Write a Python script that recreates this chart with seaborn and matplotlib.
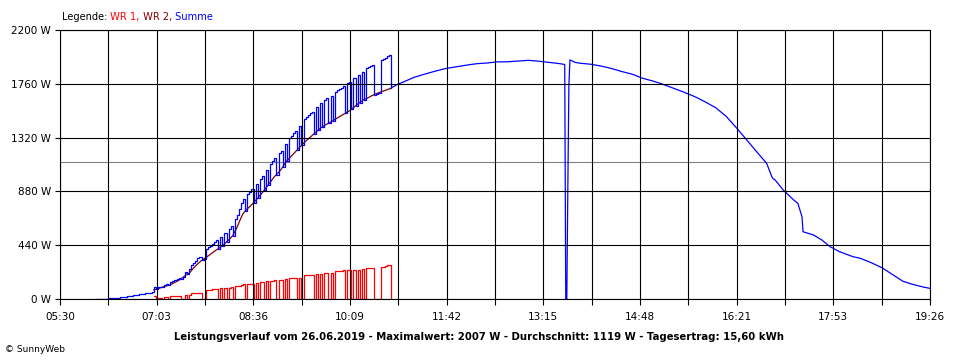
import matplotlib
matplotlib.use("Agg")
import matplotlib.pyplot as plt
import numpy as np
import seaborn as sns

# Sampling of the morning inverter data (both inverters report)
MORNING_START = "07:00"
MORNING_STEP_MIN = 2

# WR 1 switches on and off in the morning, then drops out around 10:48
wr1_morning = [
    25, 0, 12, 12, 0, 15, 15, 0, 22, 22,
    22, 22, 22, 0, 0, 30, 0, 32, 45, 45,
    46, 47, 47, 0, 0, 70, 72, 75, 78, 82,
    85, 0, 88, 0, 90, 0, 92, 95, 0, 105,
    106, 108, 118, 120, 0, 122, 124, 126, 0, 132,
    0, 136, 138, 0, 147, 0, 150, 151, 152, 0,
    158, 158, 0, 160, 0, 170, 170, 172, 172, 0,
    174, 0, 196, 196, 197, 198, 198, 0, 205, 0,
    208, 0, 210, 212, 0, 214, 0, 229, 229, 230,
    230, 236, 0, 237, 238, 0, 240, 0, 241, 0,
    242, 0, 251, 252, 252, 253, 0, 0, 0, 262,
    263, 266, 275, 280, 0,
]

wr2_morning = [
    75, 80, 85, 90, 96, 101, 106, 111, 116, 125,
    134, 143, 152, 162, 176, 190, 205, 210, 230, 250,
    268, 285, 300, 315, 327, 338, 350, 362, 375, 388,
    400, 411, 423, 436, 450, 466, 482, 500, 518, 550,
    585, 625, 665, 700, 720, 737, 753, 770, 787, 806,
    825, 845, 865, 888, 910, 932, 955, 978, 1000, 1018,
    1035, 1055, 1080, 1105, 1130, 1148, 1166, 1184, 1202, 1220,
    1238, 1256, 1274, 1290, 1305, 1320, 1335, 1350, 1365, 1380,
    1396, 1407, 1418, 1428, 1438, 1448, 1458, 1468, 1478, 1488,
    1498, 1508, 1518, 1528, 1538, 1552, 1566, 1580, 1594, 1606,
    1618, 1630, 1638, 1646, 1655, 1664, 1672, 1680, 1686, 1693,
    1699, 1705, 1711, 1717, 1723,
]

# Total before WR 1 starts reporting
early_times = ["06:04", "06:10", "06:16", "06:22", "06:28", "06:34", "06:40", "06:46", "06:52", "06:58"]
early_total = [0, 2, 5, 12, 20, 26, 33, 40, 47, 55]

# Total after WR 1 stopped reporting
afternoon_times = [
    "10:50", "10:55", "11:00", "11:10", "11:20", "11:30", "11:40", "11:50", "12:00", "12:10",
    "12:20", "12:30", "12:40", "12:50", "13:00", "13:10", "13:20", "13:30", "13:35", "13:36",
    "13:37", "13:38", "13:39", "13:40", "13:42", "13:45", "13:50", "14:00", "14:10", "14:20",
    "14:30", "14:40", "14:50", "15:00", "15:10", "15:20", "15:30", "15:40", "15:50", "16:00",
    "16:10", "16:20", "16:30", "16:38", "16:49", "16:54", "16:55", "16:57", "17:05", "17:15",
    "17:19", "17:23", "17:24", "17:34", "17:42", "17:50", "17:59", "18:12", "18:19", "18:30",
    "18:40", "18:50", "19:00", "19:10", "19:20", "19:26",
]
afternoon_total = [
    1735, 1758, 1775, 1812, 1838, 1862, 1884, 1898, 1912, 1924,
    1930, 1939, 1940, 1946, 1952, 1945, 1935, 1925, 1918, 0,
    0, 920, 1750, 1955, 1948, 1935, 1928, 1920, 1905, 1885,
    1860, 1838, 1805, 1782, 1754, 1722, 1690, 1655, 1612, 1565,
    1495, 1400, 1300, 1219, 1110, 1001, 985, 975, 891, 810,
    783, 673, 550, 524, 483, 428, 387, 346, 333, 295,
    255, 200, 145, 118, 97, 87,
]

x_tick_labels = ["05:30", "07:03", "08:36", "10:09", "11:42", "13:15", "14:48", "16:21", "17:53", "19:26"]
y_ticks = [0, 440, 880, 1320, 1760, 2200]
average_w = 1119

title = ("Leistungsverlauf vom 26.06.2019 - Maximalwert: 2007 W - "
         "Durchschnitt: 1119 W - Tagesertrag: 15,60 kWh")

RED = "#ff0000"
DARK_RED = "#800000"
BLUE = "#0000ff"


def to_minutes(hhmm):
    h, m = hhmm.split(":")
    return int(h) * 60 + int(m)


def main():
    sns.set_theme(style="white")
    plt.rcParams["font.family"] = ["DejaVu Sans"]

    wr1 = np.array(wr1_morning, dtype=float)
    wr2 = np.array(wr2_morning, dtype=float)
    morning_t = to_minutes(MORNING_START) + MORNING_STEP_MIN * np.arange(len(wr1))

    early_t = np.array([to_minutes(t) for t in early_times])
    after_t = np.array([to_minutes(t) for t in afternoon_times])

    total_t = np.concatenate([early_t, morning_t, after_t])
    total = np.concatenate([early_total, wr1 + wr2, afternoon_total])
    split = len(early_t) + len(morning_t) - 1

    fig = plt.figure(figsize=(9.6, 3.6), dpi=100)
    ax = fig.add_axes([60 / 960, 61 / 360, 870 / 960, 269 / 360])

    lw = 0.9
    sns.lineplot(x=morning_t, y=wr1, ax=ax, color=RED, linewidth=lw,
                 drawstyle="steps-post", errorbar=None, sort=False)
    sns.lineplot(x=morning_t, y=wr2, ax=ax, color=DARK_RED, linewidth=lw,
                 errorbar=None, sort=False)
    sns.lineplot(x=total_t[:split + 1], y=total[:split + 1], ax=ax, color=BLUE,
                 linewidth=lw, drawstyle="steps-post", errorbar=None, sort=False)
    sns.lineplot(x=total_t[split:], y=total[split:], ax=ax, color=BLUE,
                 linewidth=lw, errorbar=None, sort=False)
    ax.axhline(average_w, color="#808080", linewidth=0.8, zorder=1.5)

    x0, x1 = to_minutes(x_tick_labels[0]), to_minutes(x_tick_labels[-1])
    grid_x = np.linspace(x0, x1, 2 * (len(x_tick_labels) - 1) + 1)
    ax.set_xlim(x0, x1)
    ax.set_ylim(y_ticks[0], y_ticks[-1])
    ax.set_xticks(grid_x[::2])
    ax.set_xticks(grid_x[1::2], minor=True)
    ax.set_xticklabels(x_tick_labels)
    ax.set_yticks(y_ticks)
    ax.set_yticklabels([f"{v} W" for v in y_ticks])
    ax.set_xlabel("")
    ax.set_ylabel("")

    ax.set_axisbelow(False)
    ax.grid(True, axis="x", which="both", color="black", linewidth=0.8)
    ax.grid(True, axis="y", which="major", color="black", linewidth=0.8)
    for spine in ax.spines.values():
        spine.set_color("black")
        spine.set_linewidth(0.8)
    ax.tick_params(axis="x", which="both", direction="out", length=4.5, width=0.8,
                   color="black", pad=5, labelsize=7.5, labelcolor="black", bottom=True)
    ax.tick_params(axis="y", which="major", direction="out", length=3.5, width=0.8,
                   color="black", pad=3, labelsize=7.5, labelcolor="black", left=True)

    # Legend line above the plot, coloured like the series
    fs = 7.1
    t0 = fig.text(62 / 960, 1 - 17 / 360, "Legende:", fontsize=fs, va="center", color="black")
    t1 = ax.annotate(" WR 1,", xy=(1, 0), xycoords=t0, va="bottom", fontsize=fs, color=RED)
    t2 = ax.annotate(" WR 2,", xy=(1, 0), xycoords=t1, va="bottom", fontsize=fs, color=DARK_RED)
    ax.annotate(" Summe", xy=(1, 0), xycoords=t2, va="bottom", fontsize=fs, color=BLUE)

    fig.text(479.5 / 960, 1 - 337 / 360, title, fontsize=7.25, fontweight="bold",
             ha="center", va="center", color="black")
    fig.text(5 / 960, 1 - 349 / 360, "\u00a9 SunnyWeb", fontsize=6.5, va="center", color="black")

    fig.savefig("out.png", dpi=100, facecolor="white")
    plt.close(fig)


if __name__ == "__main__":
    main()
